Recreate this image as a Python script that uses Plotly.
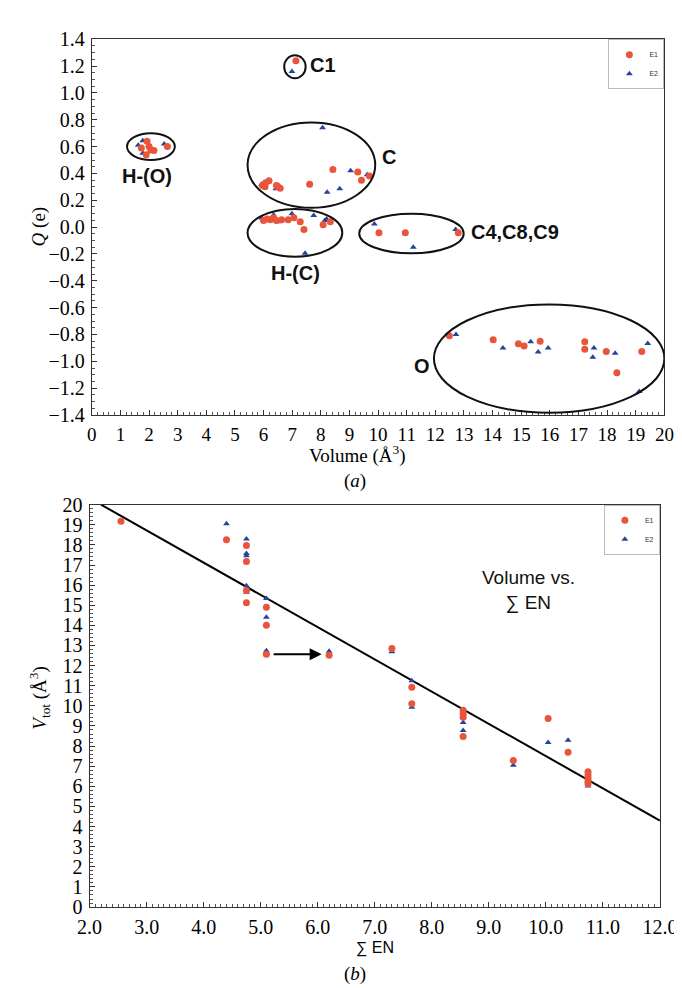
import plotly.graph_objects as go

# ---------------- Panel (a): Q vs Volume ----------------
a_e1_vol = [1.93, 1.73, 1.90, 2.06, 2.17, 2.64, 2.00,
            7.13,
            5.96, 6.07, 6.19, 6.05, 6.50, 6.58, 6.45, 7.61, 8.42, 9.29, 9.42, 9.70,
            6.00, 6.12, 6.24, 6.35, 6.45, 6.63, 6.86, 7.06, 7.28, 7.41, 8.08, 8.33,
            10.03, 10.95, 12.80,
            12.49, 14.02, 14.90, 15.10, 15.66, 17.22, 17.22, 17.97, 18.34, 19.21]
a_e1_q = [0.64, 0.59, 0.54, 0.575, 0.57, 0.60, 0.60,
          1.24,
          0.31, 0.33, 0.345, 0.30, 0.30, 0.29, 0.31, 0.32, 0.43, 0.41, 0.35, 0.38,
          0.05, 0.06, 0.055, 0.07, 0.05, 0.055, 0.055, 0.07, 0.04, -0.018, 0.018, 0.04,
          -0.042, -0.042, -0.042,
          -0.81, -0.84, -0.87, -0.886, -0.85, -0.855, -0.91, -0.927, -1.085, -0.927]

a_e2_vol = [1.62, 1.78, 1.78, 2.53,
            6.99,
            8.06, 9.04, 9.62, 8.22, 8.66, 6.17, 5.93, 6.43, 6.52,
            5.94, 6.35, 6.50, 6.99, 7.75, 8.14, 8.20, 7.45,
            9.87, 11.23, 12.71,
            12.72, 14.36, 15.33, 15.59, 15.94, 17.54, 17.50, 18.28, 19.42, 19.12]
a_e2_q = [0.61, 0.644, 0.55, 0.62,
          1.16,
          0.74, 0.42, 0.39, 0.26, 0.285, 0.35, 0.32, 0.285, 0.31,
          0.067, 0.09, 0.04, 0.10, 0.086, 0.05, 0.06, -0.195,
          0.023, -0.15, -0.018,
          -0.80, -0.90, -0.855, -0.93, -0.90, -0.90, -0.97, -0.94, -0.867, -1.225]

# cluster ellipses and labels
clusters = ["H-(O)", "C1", "C", "H-(C)", "C4,C8,C9", "O"]
ell_x0 = [1.23, 6.72, 5.44, 5.44, 9.34, 11.95]
ell_x1 = [2.90, 7.47, 9.90, 8.75, 12.99, 20.0]
ell_y0 = [0.50, 1.11, 0.144, -0.22, -0.195, -1.383]
ell_y1 = [0.70, 1.28, 0.78, 0.135, 0.10, -0.576]
lab_x = [1.92, 7.55, 10.05, 7.11, 13.16, 11.54]
lab_y = [0.38, 1.21, 0.52, -0.34, -0.036, -1.036]
lab_anchor = ["center", "left", "left", "center", "left", "center"]

# ---------------- Panel (b): Vtot vs sum EN ----------------
b_e1_en = [2.55, 4.40, 4.75, 4.75, 4.75, 4.75, 5.10, 5.10, 5.10, 6.20, 7.30,
           7.65, 7.65, 8.55, 8.55, 8.55, 8.55, 9.43, 10.04, 10.39,
           10.74, 10.74, 10.74, 10.74, 10.74]
b_e1_v = [19.17, 18.26, 17.97, 17.17, 15.73, 15.12, 14.90, 14.00, 12.56, 12.52, 12.85,
          10.93, 10.10, 9.78, 9.60, 9.44, 8.48, 7.29, 9.37, 7.69,
          6.72, 6.56, 6.40, 6.24, 6.13]
b_e2_en = [4.40, 4.75, 4.75, 4.75, 4.75, 4.75, 5.10, 5.10, 5.10, 6.20, 7.30,
           7.65, 7.65, 8.55, 8.55, 9.43, 10.04, 10.39, 10.74]
b_e2_v = [19.05, 18.29, 17.57, 17.46, 15.97, 15.65, 15.33, 14.40, 12.74, 12.72, 12.69,
          11.25, 9.93, 9.17, 8.77, 7.05, 8.18, 8.29, 6.02]
fit_en = [2.2, 12.0]
fit_v = [20.0, 4.3]
arrow_en = [5.2, 6.07]
arrow_v = [12.56, 12.56]

RED = "#E8553A"
BLUE = "#24449A"
SERIF = "Liberation Serif"
SANS = "Liberation Sans"

fig = go.Figure()

fig.add_trace(go.Scatter(x=a_e2_vol, y=a_e2_q, mode="markers", name="E2",
                         marker=dict(symbol="triangle-up", size=6, color=BLUE),
                         xaxis="x", yaxis="y", legend="legend", legendrank=2))
fig.add_trace(go.Scatter(x=a_e1_vol, y=a_e1_q, mode="markers", name="E1",
                         marker=dict(symbol="circle", size=7, color=RED),
                         xaxis="x", yaxis="y", legend="legend", legendrank=1))
fig.add_trace(go.Scatter(x=fit_en, y=fit_v, mode="lines", showlegend=False,
                         line=dict(color="black", width=2), xaxis="x2", yaxis="y2"))
fig.add_trace(go.Scatter(x=b_e2_en, y=b_e2_v, mode="markers", name="E2",
                         marker=dict(symbol="triangle-up", size=6, color=BLUE),
                         xaxis="x2", yaxis="y2", legend="legend2", legendrank=2))
fig.add_trace(go.Scatter(x=b_e1_en, y=b_e1_v, mode="markers", name="E1",
                         marker=dict(symbol="circle", size=7, color=RED),
                         xaxis="x2", yaxis="y2", legend="legend2", legendrank=1))

shapes = []
for i in range(len(clusters)):
    shapes.append(dict(type="circle", xref="x", yref="y",
                       x0=ell_x0[i], x1=ell_x1[i], y0=ell_y0[i], y1=ell_y1[i],
                       line=dict(color="#111111", width=2)))

annotations = []
for i, c in enumerate(clusters):
    annotations.append(dict(x=lab_x[i], y=lab_y[i], xref="x", yref="y", text="<b>%s</b>" % c,
                            showarrow=False, xanchor=lab_anchor[i], yanchor="middle",
                            font=dict(family=SANS, size=20, color="#111111")))
annotations.append(dict(x=arrow_en[1], y=arrow_v[1], ax=arrow_en[0], ay=arrow_v[0],
                        xref="x2", yref="y2", axref="x2", ayref="y2", text="",
                        showarrow=True, arrowhead=2, arrowsize=1.2, arrowwidth=2,
                        arrowcolor="black"))
annotations.append(dict(x=531 / 682, y=1 - 585 / 988, xref="paper", yref="paper",
                        xanchor="center", yanchor="middle",
                        text="Volume vs.<br>\u2211 EN", showarrow=False, align="center",
                        font=dict(family=SANS, size=19, color="#111111")))

def ptxt(x, y, text, family, size, angle=0):
    return dict(x=x / 682, y=1 - y / 988, xref="paper", yref="paper", text=text,
                xanchor="center", yanchor="middle", textangle=angle, showarrow=False,
                font=dict(family=family, size=size, color="black"))

annotations += [
    ptxt(352, 445, "Volume (\u00c5<sup>3</sup>)", SERIF, 19),
    ptxt(350, 473, "(<i>a</i>)", SERIF, 19),
    ptxt(371, 950, "\u2211 EN", SANS, 16),
    ptxt(350, 977, "(<i>b</i>)", SERIF, 19),
    ptxt(20, 212, "<i>Q</i> (e)", SERIF, 19, -90),
    ptxt(20, 695, "<i>V</i><sub>tot</sub> (\u00c5<sup>3</sup>)", SERIF, 19, -90),
]

def axis_common(size):
    return dict(showline=True, linecolor="#333333", linewidth=1, mirror=True,
                ticks="inside", ticklen=5, tickcolor="#333333", showgrid=False,
                zeroline=False, ticklabelstandoff=2,
                tickfont=dict(family=SERIF, size=size, color="black"))

fig.update_layout(
    width=682, height=988, margin=dict(l=0, r=0, t=0, b=0),
    paper_bgcolor="white", plot_bgcolor="white",
    xaxis=dict(domain=[75 / 682, 673 / 682], anchor="y", range=[0, 20], dtick=1, tick0=0,
               ticklabeloverflow="allow",
               minor=dict(dtick=0.2, ticks="inside", ticklen=3, tickcolor="#555555"),
               **axis_common(19)),
    yaxis=dict(domain=[1 - 405 / 988, 1 - 20.7 / 988], anchor="x", range=[-1.4, 1.4],
               dtick=0.2, tick0=0, tickformat=".1f",
               minor=dict(dtick=0.05, ticks="inside", ticklen=3, tickcolor="#555555"),
               **axis_common(20)),
    xaxis2=dict(domain=[72.7 / 682, 668.3 / 682], anchor="y2", range=[2, 12], dtick=1, tick0=0,
                tickformat=".1f", ticklabeloverflow="allow",
                minor=dict(dtick=0.1, ticks="inside", ticklen=3, tickcolor="#555555"),
                **axis_common(20)),
    yaxis2=dict(domain=[1 - 908.3 / 988, 1 - 496.7 / 988], anchor="x2", range=[0, 20],
                dtick=1, tick0=0,
                minor=dict(dtick=0.2, ticks="inside", ticklen=3, tickcolor="#555555"),
                **axis_common(20)),
    legend=dict(x=673 / 682, y=1 - 20.7 / 988, xanchor="right", yanchor="top",
                bordercolor="#bbbbbb", borderwidth=1, bgcolor="white",
                font=dict(family=SANS, size=7, color="#333333"),
                itemwidth=30, tracegroupgap=0),
    legend2=dict(x=668.3 / 682, y=1 - 496.7 / 988, xanchor="right", yanchor="top",
                 bordercolor="#bbbbbb", borderwidth=1, bgcolor="white",
                 font=dict(family=SANS, size=7, color="#333333"),
                 itemwidth=30, tracegroupgap=0),
    shapes=shapes, annotations=annotations,
)

fig.write_html("out.html")
